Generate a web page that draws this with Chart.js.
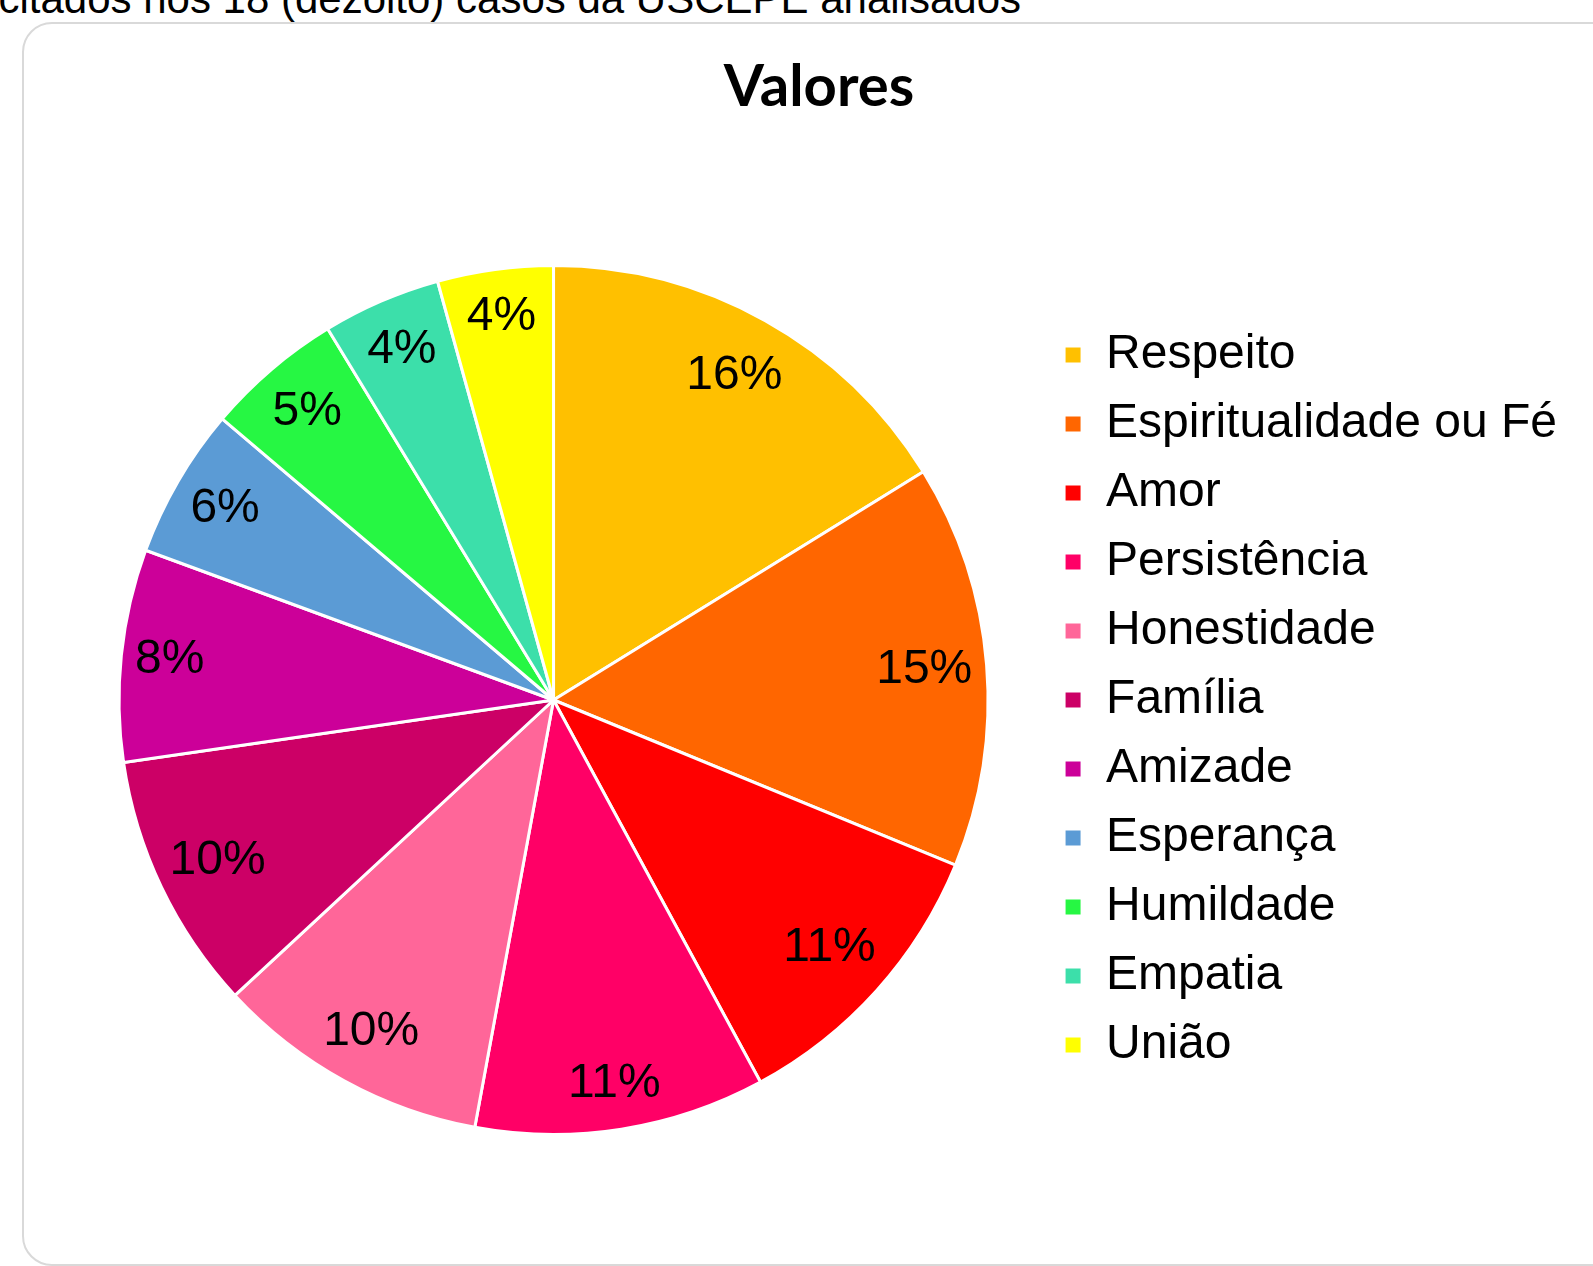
<!DOCTYPE html>
<html>
<head>
<meta charset="utf-8">
<script src="https://cdn.jsdelivr.net/npm/chart.js@4.4.0/dist/chart.umd.min.js"></script>
<style>
  html, body { margin: 0; padding: 0; background: #fff; overflow: hidden; }
  body { width: 1593px; height: 1266px; position: relative; }
  #topo { position: absolute; right: 572px; top: -22px; font: 42px "Liberation Sans", Arial, sans-serif; line-height: 1; white-space: nowrap; color: #000; }
  #caixa { position: absolute; left: 22px; top: 22px; width: 1620px; height: 1240px; border: 2px solid #d9d9d9; border-radius: 30px; }
  #titulo { position: absolute; left: 619px; width: 400px; top: 49px; text-align: center; font: bold 58px Lato, "Open Sans", sans-serif; line-height: 1.2; color: #000; }
  #grafico { position: absolute; left: 0; top: 0; }
</style>
</head>
<body>
<div id="topo">citados nos 18 (dezoito) casos da USCEPE analisados</div>
<div id="caixa"></div>
<div id="titulo">Valores</div>
<canvas id="grafico" width="1593" height="1266"></canvas>
<script>
// categorias e valores (percentuais)
const categorias = ['Respeito', 'Espiritualidade ou Fé', 'Amor', 'Persistência', 'Honestidade', 'Família', 'Amizade', 'Esperança', 'Humildade', 'Empatia', 'União'];
const valores = [16.2, 15.0, 10.9, 10.8, 10.2, 9.6, 7.9, 5.6, 5.1, 4.4, 4.3];
const rotulos = ['16%', '15%', '11%', '11%', '10%', '10%', '8%', '6%', '5%', '4%', '4%'];
const cores = ['#FFC000', '#FF6600', '#FF0000', '#FF0066', '#FF6699', '#CC0066', '#CC0099', '#5B9BD5', '#26F743', '#3CDFAA', '#FFFF00'];

// plugin simples para escrever os percentuais dentro das fatias
// (distância do centro como fração do raio, como no Excel "melhor ajuste")
const distRotulo = [0.854, 0.856, 0.854, 0.895, 0.871, 0.857, 0.888, 0.875, 0.873, 0.879, 0.891];
const rotulosPlugin = {
  id: 'rotulos',
  afterDatasetsDraw(chart) {
    const ctx = chart.ctx;
    const meta = chart.getDatasetMeta(0);
    ctx.save();
    ctx.font = '48px "Liberation Sans", Arial, sans-serif';
    ctx.fillStyle = '#000';
    ctx.textAlign = 'center';
    ctx.textBaseline = 'middle';
    meta.data.forEach(function(arc, i) {
      const p = arc.getProps(['x', 'y', 'startAngle', 'endAngle', 'outerRadius'], true);
      const meio = (p.startAngle + p.endAngle) / 2;
      const r = p.outerRadius * distRotulo[i];
      ctx.fillText(rotulos[i], p.x + Math.cos(meio) * r, p.y + Math.sin(meio) * r);
    });
    ctx.restore();
  }
};

const ctx = document.getElementById('grafico').getContext('2d');
new Chart(ctx, {
  type: 'pie',
  data: {
    labels: categorias,
    datasets: [{
      data: valores,
      backgroundColor: cores,
      borderColor: '#ffffff',
      borderWidth: 3
    }]
  },
  options: {
    responsive: false,
    animation: false,
    layout: { padding: { top: 264, bottom: 130, left: 64, right: 26 } },
    plugins: {
      title: { display: false },
      tooltip: { enabled: false },
      legend: {
        position: 'right',
        labels: {
          boxWidth: 18,
          boxHeight: 18,
          padding: 21,
          color: '#000',
          font: { size: 48, family: '"Liberation Sans", Arial, sans-serif' }
        }
      }
    }
  },
  plugins: [rotulosPlugin]
});
</script>
</body>
</html>
